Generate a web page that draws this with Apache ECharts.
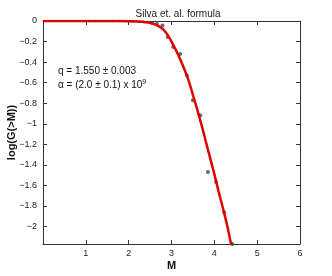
<!DOCTYPE html>
<html><head><meta charset="utf-8">
<script src="https://cdn.jsdelivr.net/npm/echarts@6/dist/echarts.min.js"></script>
<style>html,body{margin:0;padding:0;background:#fff}#c{width:332px;height:276px}</style>
</head><body><div id="c"></div>
<script>
// Observed data points (M, log G(>M))
var obsM = [0.98,1.06,1.14,1.22,1.30,1.38,1.46,1.54,1.62,1.70,1.78,1.86,1.94,2.02,2.10,2.18,2.26,2.34,2.42,2.54,2.66,2.79,2.91,3.04,3.20,3.36,3.50,3.67,3.85,4.04,4.23,4.42];
var obsLogG = [0,0,0,0,0,0,0,0,0,0,0,0,0,-0.001,-0.002,-0.003,-0.004,-0.006,-0.01,-0.019,-0.029,-0.043,-0.155,-0.252,-0.32,-0.528,-0.771,-0.917,-1.47,-1.567,-1.864,-2.17];
// Fitted curve
var fitM = [0,0.5,1,1.5,2,2.2,2.4,2.5,2.6,2.7,2.8,2.9,3.0,3.1,3.2,3.3,3.4,3.5,3.6,3.7,3.8,3.9,4.0,4.1,4.2,4.3,4.39];
var fitLogG = [0,0,0,0,-0.002,-0.005,-0.012,-0.018,-0.03,-0.05,-0.08,-0.13,-0.2,-0.28,-0.37,-0.47,-0.58,-0.72,-0.86,-1.01,-1.17,-1.33,-1.49,-1.66,-1.82,-1.99,-2.17];
var xTicks = [1,2,3,4,5,6];
var yTicks = [0,-0.2,-0.4,-0.6,-0.8,-1,-1.2,-1.4,-1.6,-1.8,-2];

var F = '"Liberation Sans", Arial, sans-serif';
function z(a,b){return a.map(function(v,i){return [v,b[i]];});}
var smallObs = [], bigObs = [];
obsM.forEach(function(m,i){ (m < 2.5 ? smallObs : bigObs).push([m, obsLogG[i]]); });
var axLine = {show:true, onZero:false, lineStyle:{color:'#333', width:1}};
var chart = echarts.init(document.getElementById('c'));
chart.setOption({
  animation:false,
  backgroundColor:'#fff',
  grid:{left:43, right:32, top:21, bottom:32, containLabel:false, outerBoundsMode:'none'},
  xAxis:[{
    type:'value', min:0, max:6, position:'bottom',
    axisLine:axLine, splitLine:{show:false},
    axisTick:{inside:true, length:4, customValues:xTicks, lineStyle:{color:'#333'}},
    axisLabel:{customValues:xTicks, color:'#222', fontSize:9, fontFamily:F, margin:5},
    name:'M', nameLocation:'middle', nameGap:16, nameMoveOverlap:false,
    nameTextStyle:{fontWeight:'bold', fontSize:11, fontFamily:F, color:'#111'}
  },{
    type:'value', min:0, max:6, position:'top',
    axisLine:axLine, splitLine:{show:false},
    axisTick:{inside:true, length:4, customValues:xTicks, lineStyle:{color:'#333'}},
    axisLabel:{show:false}
  }],
  yAxis:[{
    type:'value', min:-2.17, max:0, position:'left',
    axisLine:axLine, splitLine:{show:false},
    axisTick:{inside:true, length:4, customValues:yTicks, lineStyle:{color:'#333'}},
    axisLabel:{customValues:yTicks, color:'#222', fontSize:9, fontFamily:F, margin:6,
      formatter:function(v){ var s = (Math.round(v*10)/10).toString(); return s.replace('-', '\u2212'); }},
    name:'log(G(>M))', nameLocation:'middle', nameGap:26, nameRotate:90, nameMoveOverlap:false,
    nameTextStyle:{fontWeight:'bold', fontSize:11, fontFamily:F, color:'#111'}
  },{
    type:'value', min:-2.17, max:0, position:'right',
    axisLine:axLine, splitLine:{show:false},
    axisTick:{inside:true, length:4, customValues:yTicks, lineStyle:{color:'#333'}},
    axisLabel:{show:false}
  }],
  title:{text:'Silva et. al. formula', left:173, top:4, textAlign:'center',
    textStyle:{fontSize:10, fontWeight:'normal', fontFamily:F, color:'#222'}},
  graphic:[
    {type:'text', left:58, top:66, style:{text:'q = 1.550 \u00b1 0.003', fontSize:10, fontFamily:F, fill:'#111'}},
    {type:'text', left:58, top:79, style:{text:'\u03b1 = (2.0 \u00b1 0.1) x 10{s|9}', fontSize:10, fontFamily:F, fill:'#111',
      rich:{s:{fontSize:7, fontFamily:F, fill:'#111', verticalAlign:'top', padding:[0,0,6,0]}}}}
  ],
  series:[
    {type:'scatter', data:smallObs, symbolSize:2.5, itemStyle:{color:'#666'}, z:2},
    {type:'scatter', data:bigObs, symbolSize:4, itemStyle:{color:'#444'}, z:2},
    {type:'line', data:z(fitM, fitLogG), smooth:0.3, showSymbol:false, clip:true,
      lineStyle:{color:'#e00000', width:2.5}, z:3}
  ]
});
</script></body></html>
